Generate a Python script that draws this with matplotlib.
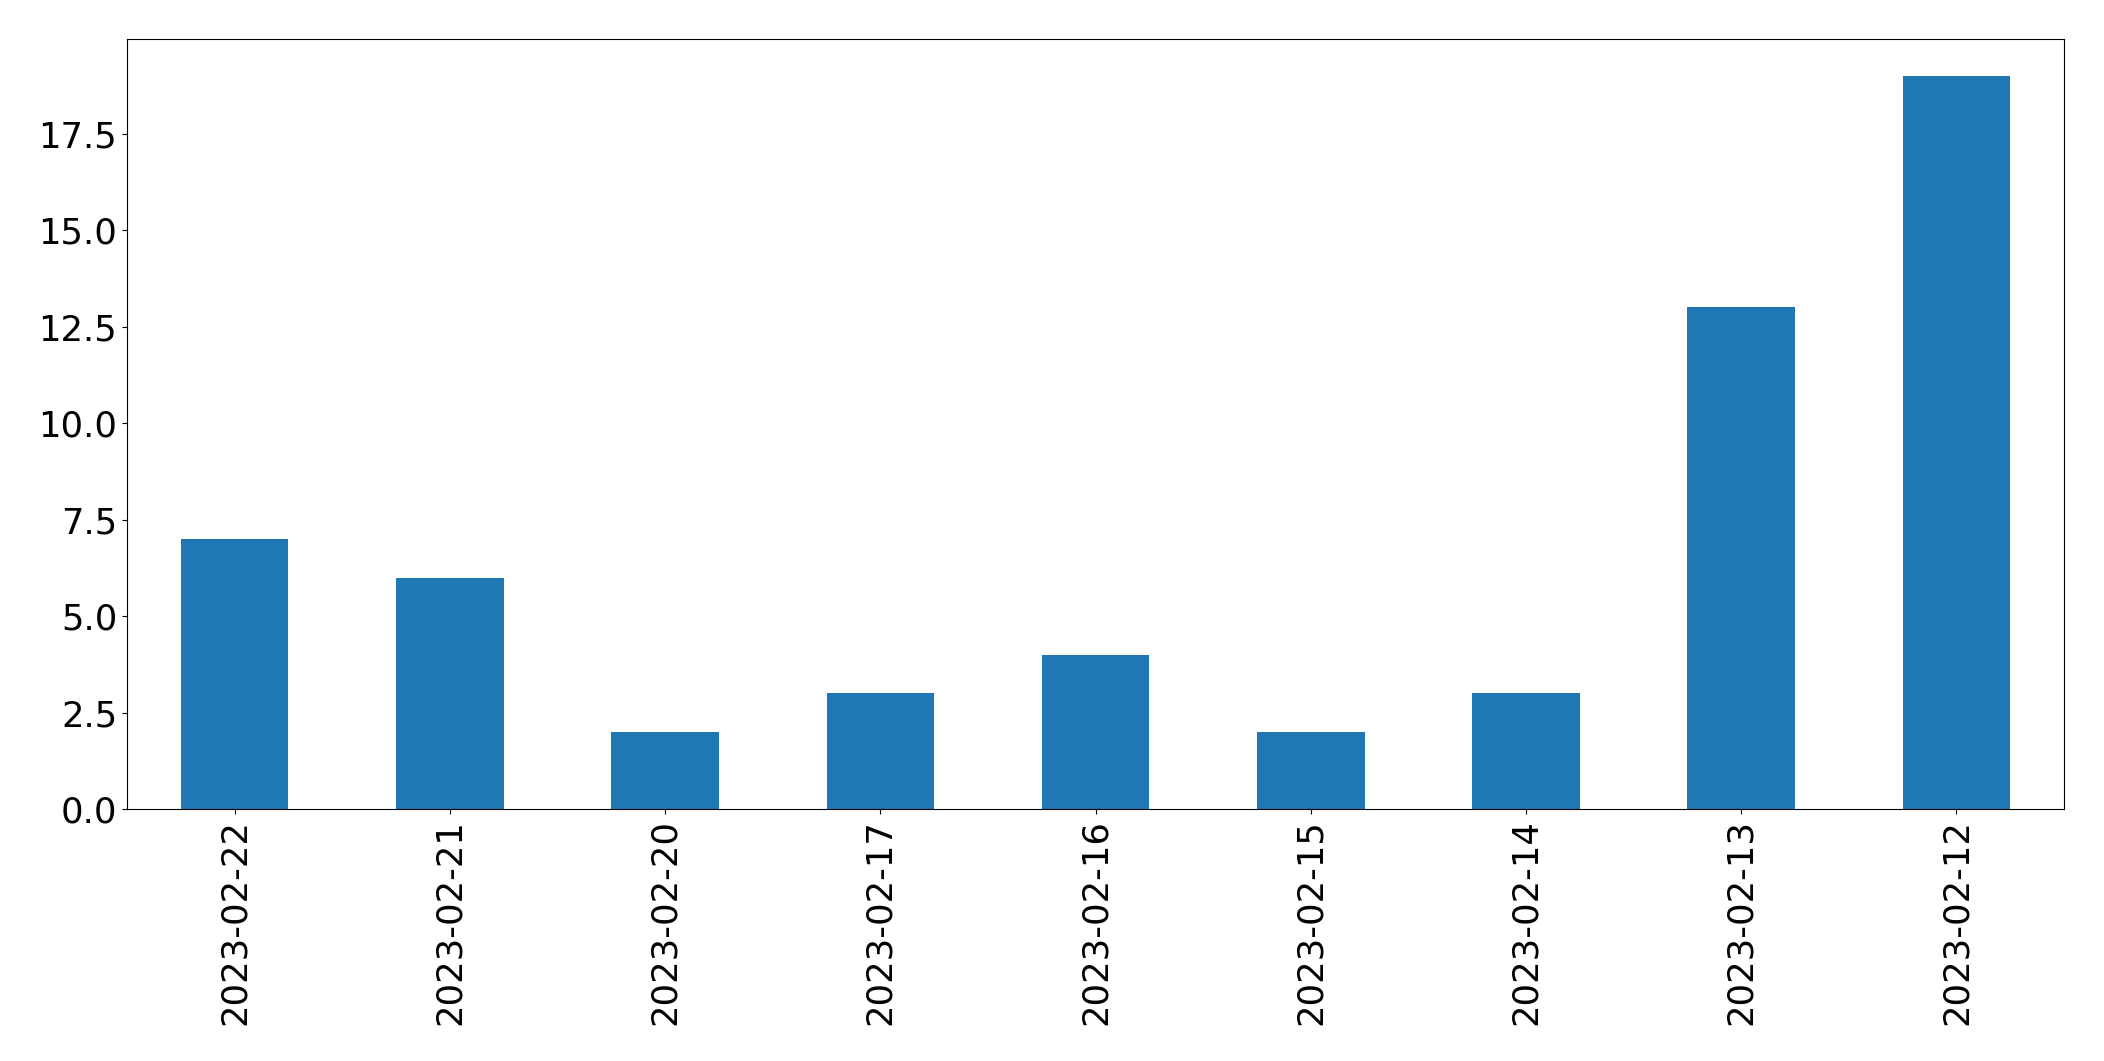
import pandas as pd
import matplotlib
matplotlib.use("Agg")
import matplotlib.pyplot as plt

dates = ["2023-02-22", "2023-02-21", "2023-02-20", "2023-02-17", "2023-02-16",
         "2023-02-15", "2023-02-14", "2023-02-13", "2023-02-12"]
counts = [7, 6, 2, 3, 4, 2, 3, 13, 19]

s = pd.Series(counts, index=dates)

fig, ax = plt.subplots(figsize=(21.04, 10.61), dpi=100)
s.plot(kind="bar", ax=ax, fontsize=25.5, color="#1f77b4")
fig.subplots_adjust(left=0.0604, right=0.981, top=0.963, bottom=0.2375)

fig.savefig("out.png", dpi=100)
